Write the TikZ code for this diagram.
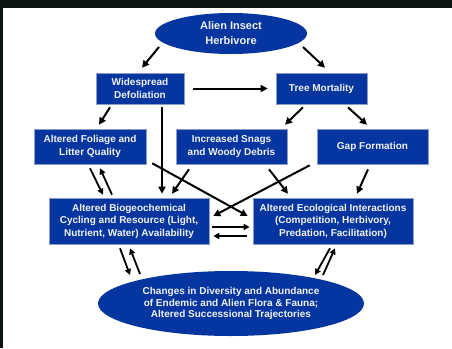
\documentclass[tikz,border=0pt]{standalone}
\usepackage{fontspec}
\setmainfont{Liberation Sans}
\usetikzlibrary{shapes.geometric,arrows.meta}
\definecolor{boxblue}{HTML}{0536A0}
\definecolor{edgeblue}{HTML}{8C9CC8}
\definecolor{frame}{HTML}{0C1513}
\definecolor{txt}{HTML}{F2F2F6}
\tikzset{
  rbox/.style={rectangle, fill=boxblue, draw=edgeblue, line width=0.6pt, inner sep=0pt,
    text=txt, font=\fontsize{10}{12.3}\selectfont\bfseries, align=center},
  oval/.style={ellipse, fill=boxblue, draw=none, inner sep=0pt, text=txt, align=center},
  arr/.style={draw=black, line width=2pt, -{Triangle[length=7pt,width=7pt]}},
  darr/.style={draw=black, line width=1.8pt, -{Triangle[length=6pt,width=6pt]}}
}
\begin{document}
\begin{tikzpicture}[x=1pt,y=-1pt]
\useasboundingbox (0,0) rectangle (452,348);
\fill[white] (0,0) rectangle (452,348);
\fill[frame] (0,0) rectangle (452,8);
\fill[frame] (0,0) rectangle (3,348);

\node[oval, minimum width=152pt, minimum height=41pt, font=\fontsize{11}{15}\selectfont\bfseries] (top) at (231,33.5) {Alien Insect\\Herbivore};
\node[rbox, minimum width=88pt, minimum height=31pt] (wd) at (140,88.5) {Widespread\\Defoliation};
\node[rbox, minimum width=91pt, minimum height=31pt] (tm) at (321.5,88.5) {Tree Mortality};
\node[rbox, minimum width=112pt, minimum height=35pt] (af) at (90,146.5) {Altered Foliage and\\Litter Quality};
\node[rbox, minimum width=111pt, minimum height=35pt] (is) at (231.5,146.5) {Increased Snags\\and Woody Debris};
\node[rbox, minimum width=111pt, minimum height=35pt] (gf) at (372.5,146.5) {Gap Formation};
\node[rbox, minimum width=160pt, minimum height=46pt, font=\fontsize{10}{12.5}\selectfont\bfseries] (ab) at (129,221) {Altered Biogeochemical\\Cycling and Resource (Light,\\Nutrient, Water) Availability};
\node[rbox, minimum width=160pt, minimum height=46pt, font=\fontsize{10}{12.5}\selectfont\bfseries] (ae) at (333,221) {Altered Ecological Interactions\\(Competition, Herbivory,\\Predation, Facilitation)};
\node[oval, minimum width=266pt, minimum height=65pt, font=\fontsize{10}{11.7}\selectfont\bfseries] (bot) at (231,303.5) {Changes in Diversity and Abundance\\of Endemic and Alien Flora \& Fauna;\\Altered Successional Trajectories};

% top level
\draw[arr] ([shift={(-72,13.5)}]top.center) -- ([shift={(2,-5)}]wd.north);
\draw[arr] ([shift={(72,13.5)}]top.center) -- ([shift={(3.5,-5)}]tm.north);
\draw[arr] ([shift={(9,0)}]wd.east) -- ([shift={(-8,0)}]tm.west);
% second level
\draw[arr] ([shift={(-30,3)}]wd.south) -- ([shift={(9,-4)}]af.north);
\draw[arr] ([shift={(22,3)}]wd.south) -- ([shift={(33,-4)}]ab.north);
\draw[arr] ([shift={(-18.5,3)}]tm.south) -- ([shift={(53.5,-4)}]is.north);
\draw[arr] ([shift={(26.5,3)}]tm.south) -- ([shift={(-5.5,-4)}]gf.north);
% third level
\draw[arr] ([shift={(6,-1)}]af.south east) -- ([shift={(-5,-5)}]ae.west);
\draw[arr] ([shift={(-7,1)}]gf.south west) -- ([shift={(4,-5)}]ab.east);
\draw[arr] ([shift={(-42.5,5)}]is.south) -- ([shift={(43,-4)}]ab.north);
\draw[arr] ([shift={(37.5,5)}]is.south) -- ([shift={(-45,-4)}]ae.north);
\draw[arr] ([shift={(-4.5,5)}]gf.south) -- ([shift={(24,-4)}]ae.north);
% double arrows
\draw[darr] ([shift={(0,4)}]af.south) -- ([shift={(-26,-3)}]ab.north);
\draw[darr] ([shift={(-17,-3)}]ab.north) -- ([shift={(10,4)}]af.south);
\draw[darr] ([shift={(3,6)}]ab.east) -- ([shift={(-3,6)}]ae.west);
\draw[darr] ([shift={(-6,15)}]ae.west) -- ([shift={(4,15)}]ab.east);
\draw[darr] ([shift={(-9,4)}]ab.south) -- ([shift={(-101,-28.5)}]bot.center);
\draw[darr] ([shift={(-91,-29.5)}]bot.center) -- ([shift={(1,4)}]ab.south);
\draw[darr] ([shift={(-3,4)}]ae.south) -- ([shift={(84,-28.5)}]bot.center);
\draw[darr] ([shift={(92,-28.5)}]bot.center) -- ([shift={(2,4)}]ae.south);
\end{tikzpicture}
\end{document}
